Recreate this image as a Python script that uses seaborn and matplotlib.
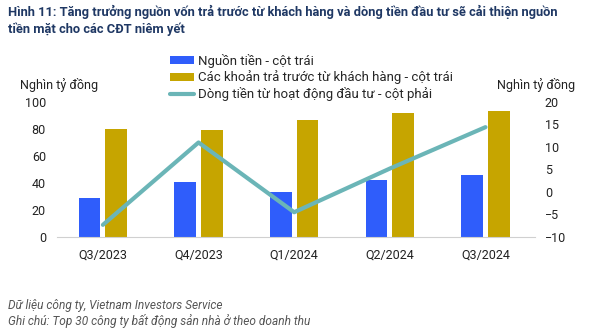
import numpy as np
import pandas as pd
import matplotlib
matplotlib.use("Agg")
import matplotlib.pyplot as plt
from matplotlib.patches import Patch
from matplotlib.lines import Line2D
import seaborn as sns

# Quarterly data (thousand billion VND)
quarters = ["Q3/2023", "Q4/2023", "Q1/2024", "Q2/2024", "Q3/2024"]
cash = [29, 40.5, 33, 42, 46]                   # Nguồn tiền - left axis
prepayments = [80, 79, 87, 91.5, 93]            # Trả trước từ khách hàng - left axis
invest_cf = [-7.3, 11.0, -4.5, 5.2, 14.4]       # Dòng tiền đầu tư - right axis

series_names = ["Nguồn tiền - cột trái",
                "Các khoản trả trước từ khách hàng - cột trái",
                "Dòng tiền từ hoạt động đầu tư - cột phải"]

BLUE = "#2F5DFB"
GOLD = "#C6A500"
TEAL = "#6BB5B7"

sns.set_theme(style="white")
plt.rcParams["font.family"] = ["Roboto", "DejaVu Sans"]

bars = pd.DataFrame({
    "quarter": quarters * 2,
    "value": cash + prepayments,
    "series": [series_names[0]] * len(quarters) + [series_names[1]] * len(quarters),
})

fig = plt.figure(figsize=(6.0, 3.31), dpi=100)
ax = fig.add_axes([0.095, 0.284, 0.797, 0.408])

sns.barplot(data=bars, x="quarter", y="value", hue="series",
            palette=[BLUE, GOLD], width=0.56, gap=0.19, ax=ax,
            legend=False, saturation=1, edgecolor="none")

ax.set_xlim(-0.48, 4.52)
ax.set_ylim(0, 100)
ax.set_yticks(range(0, 101, 20))
ax.set_xlabel("")
ax.set_ylabel("")
for s in ["top", "left", "right"]:
    ax.spines[s].set_visible(False)
ax.spines["bottom"].set_color("#d0d0d0")
ax.spines["bottom"].set_linewidth(0.8)
ax.tick_params(axis="both", length=0, labelsize=9, colors="#222222")
ax.tick_params(axis="x", pad=8)
ax.tick_params(axis="y", pad=8)

ax2 = ax.twinx()
sns.lineplot(x=np.arange(len(quarters)), y=invest_cf, color=TEAL,
             linewidth=3, ax=ax2)
ax2.set_ylim(-10, 20)
ax2.set_yticks(range(-10, 21, 5))
ax2.set_xlim(-0.48, 4.52)
for s in ["top", "left", "right", "bottom"]:
    ax2.spines[s].set_visible(False)
ax2.tick_params(axis="y", length=0, labelsize=9, colors="#222222", pad=7)

# axis units
fig.text(0.033, 0.722, "Nghìn tỷ đồng", fontsize=9, color="#222222", ha="left", va="bottom")
fig.text(0.828, 0.722, "Nghìn tỷ đồng", fontsize=9, color="#222222", ha="left", va="bottom")

# legend
handles = [Patch(facecolor=BLUE, edgecolor="none"),
           Patch(facecolor=GOLD, edgecolor="none"),
           Line2D([0], [0], color=TEAL, linewidth=3)]
fig.legend(handles, series_names, loc="upper left",
           bbox_to_anchor=(0.283, 0.838), frameon=False, fontsize=9.5,
           handlelength=1.8, handleheight=0.55, handletextpad=0.3,
           labelspacing=0.2, borderpad=0, borderaxespad=0)

# title
fig.text(0.013, 0.985,
         "Hình 11: Tăng trưởng nguồn vốn trả trước từ khách hàng và dòng tiền đầu tư sẽ cải thiện nguồn\n"
         "tiền mặt cho các CĐT niêm yết",
         fontsize=9.3, fontweight="bold", color="#1F3864", ha="left", va="top",
         linespacing=1.3)

# footnotes
fig.text(0.013, 0.078, "Dữ liệu công ty, Vietnam Investors Service",
         fontsize=8.6, style="italic", color="#555555", ha="left", va="center")
fig.text(0.013, 0.030, "Ghi chú: Top 30 công ty bất động sản nhà ở theo doanh thu",
         fontsize=8.6, style="italic", color="#555555", ha="left", va="center")

fig.savefig("out.png", dpi=100, facecolor="white")
